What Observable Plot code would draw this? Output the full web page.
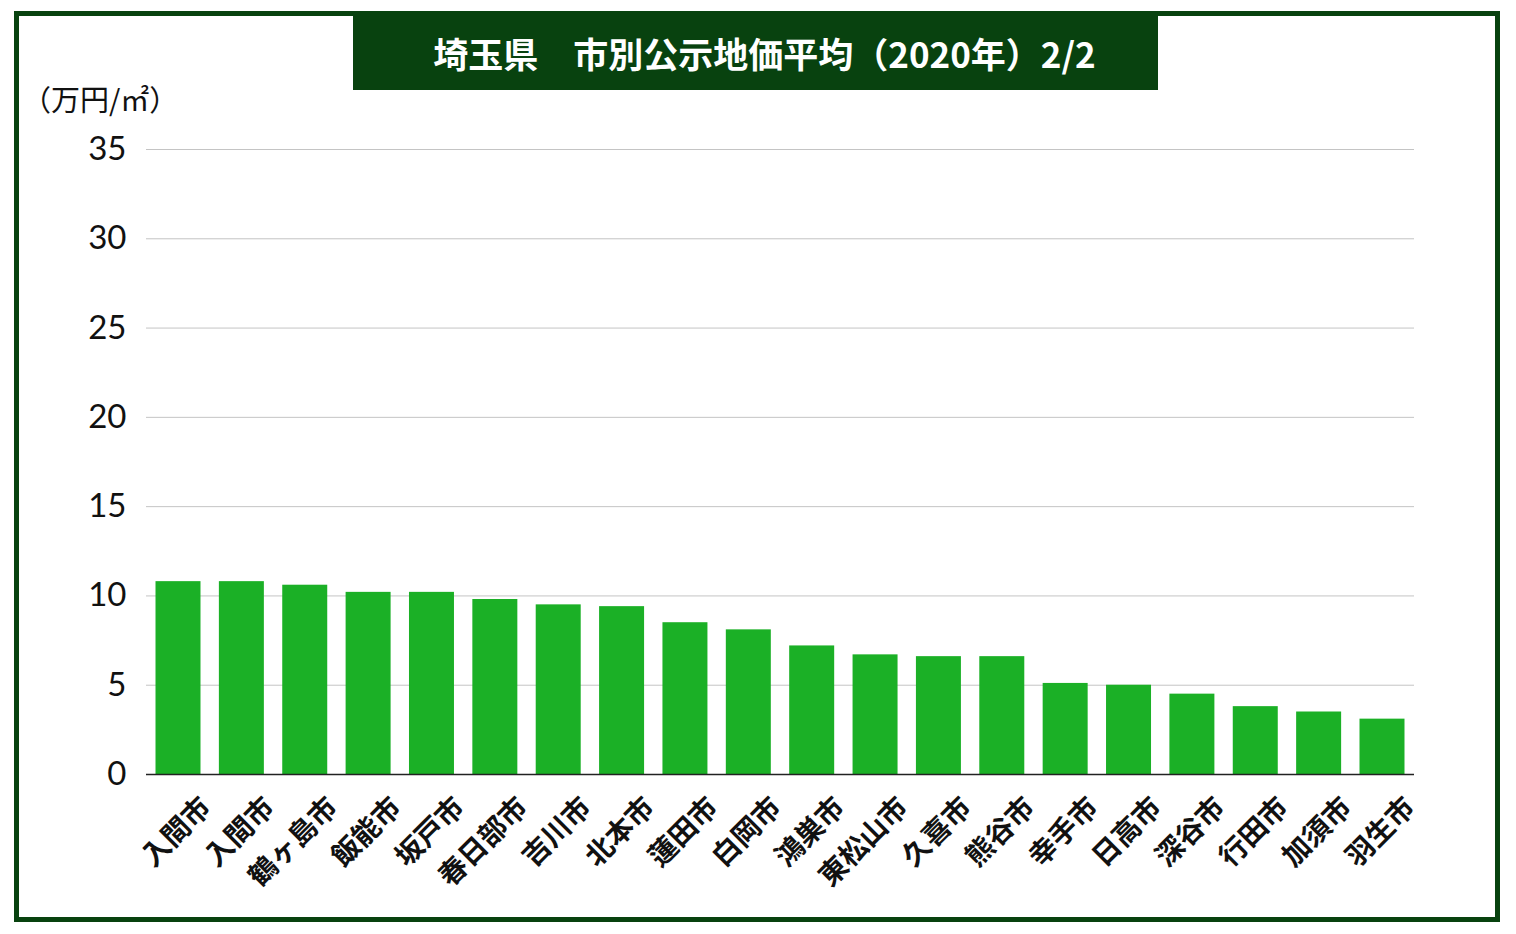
<!DOCTYPE html>
<html>
<head>
<meta charset="utf-8">
<script src="https://cdn.jsdelivr.net/npm/d3@7"></script>
<script src="https://cdn.jsdelivr.net/npm/@observablehq/plot@0.6"></script>
<style>
  html, body { margin: 0; padding: 0; background: #fff; }
  #wrap { position: relative; width: 1516px; height: 934px; overflow: hidden; }
  #frame { position: absolute; left: 14px; top: 11px; width: 1476px; height: 901px; border: 5px solid #08420f; }
  #title { position: absolute; left: 353px; top: 16px; width: 805px; height: 74px; background: #08420f; color: #fff;
           font-family: "Noto Sans CJK JP", sans-serif; font-weight: 700; font-size: 35px; line-height: 74px; text-align: center; padding-left: 18px; box-sizing: border-box; }
  #ylabel { position: absolute; left: 22px; top: 77px; font-family: "Noto Sans CJK JP", sans-serif; font-size: 29px; color: #111; }
  #chart { position: absolute; left: 0; top: 0; }
</style>
</head>
<body>
<div id="wrap">
  <div id="chart"></div>
  <div id="frame"></div>
  <div id="title">埼玉県　市別公示地価平均（2020年）2/2</div>
  <div id="ylabel">（万円/㎡）</div>
</div>
<script>
const cities = ["入間市","入間市","鶴ヶ島市","飯能市","坂戸市","春日部市","吉川市","北本市","蓮田市","白岡市","鴻巣市","東松山市","久喜市","熊谷市","幸手市","日高市","深谷市","行田市","加須市","羽生市"];
const prices = [10.8,10.8,10.6,10.2,10.2,9.8,9.5,9.4,8.5,8.1,7.2,6.7,6.6,6.6,5.1,5.0,4.5,3.8,3.5,3.1];
const yTicks = [0,5,10,15,20,25,30,35];

const idx = d3.range(cities.length);

const chart = Plot.plot({
  width: 1516,
  height: 934,
  marginLeft: 146,
  marginRight: 102,
  marginTop: 149,
  marginBottom: 160,
  style: { fontFamily: "Lato, sans-serif", background: "transparent", color: "#111" },
  x: { type: "band", domain: idx, paddingInner: 0.29, paddingOuter: 0.15, round: false, axis: null },
  y: { domain: [0, 35], axis: null },
  marks: [
    Plot.gridY(yTicks, { stroke: "#c4c4c4", strokeOpacity: 1, strokeWidth: 1 }),
    Plot.axisY(yTicks, { tickSize: 0, tickPadding: 20, fontSize: 33, label: null, fill: "#111" }),
    Plot.barY(idx, { x: d => d, y: d => prices[d], fill: "#1bb026" }),
    Plot.ruleY([0], { stroke: "#222", strokeWidth: 1.5 }),
    Plot.text(idx, {
      x: d => d, text: d => cities[d], frameAnchor: "bottom",
      rotate: -45, textAnchor: "end", lineAnchor: "middle",
      dx: 28, dy: 28, fontSize: 28, fontWeight: 700, fill: "#111",
      fontFamily: "Noto Sans CJK JP, sans-serif"
    })
  ]
});
document.getElementById("chart").appendChild(chart);
</script>
</body>
</html>
